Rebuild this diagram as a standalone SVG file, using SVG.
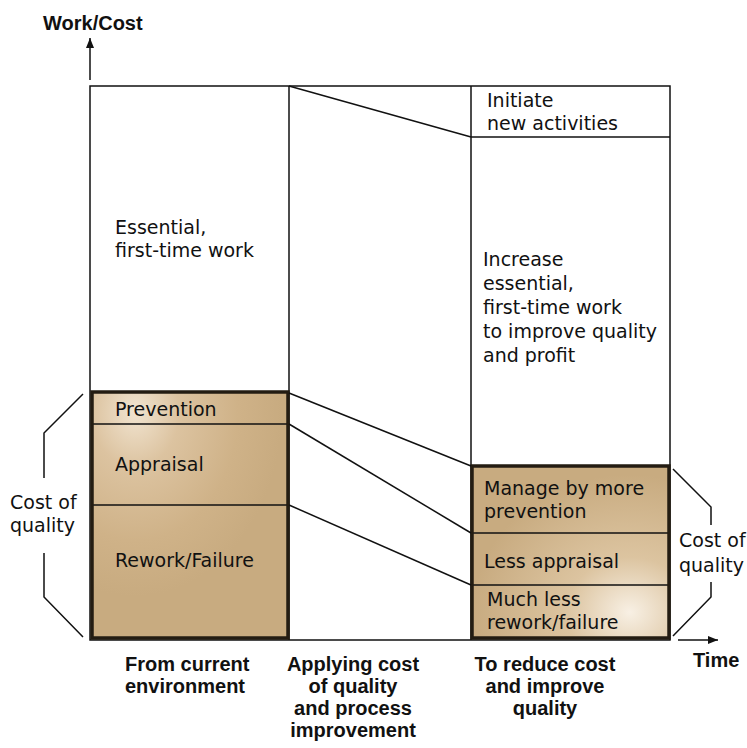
<svg xmlns="http://www.w3.org/2000/svg" width="747" height="748" viewBox="0 0 747 748">
<style>
.t{font-family:"DejaVu Sans",sans-serif;font-size:19px;fill:#111}
.b{font-family:"Liberation Sans",Arial,sans-serif;font-size:20px;font-weight:bold;fill:#111}
.ln{stroke:#111;stroke-width:1.5;fill:none}
.thk{stroke:#231c12;stroke-width:3.5;fill:none}
</style>
<defs>
<marker id="ah" viewBox="0 0 10 10" refX="10" refY="5" markerWidth="10" markerHeight="10" markerUnits="userSpaceOnUse" orient="auto">
<path d="M0,1 L10,5 L0,9 Z" fill="#111"/>
</marker>
<radialGradient id="gL" cx="0.22" cy="0.08" r="0.75">
<stop offset="0" stop-color="#f1e4d0"/>
<stop offset="0.3" stop-color="#dcc3a0"/>
<stop offset="0.7" stop-color="#cfb288"/>
<stop offset="1" stop-color="#c8ab80"/>
</radialGradient>
<radialGradient id="gR" cx="0.8" cy="0.85" r="0.8">
<stop offset="0" stop-color="#f8f0e4"/>
<stop offset="0.4" stop-color="#dcc4a0"/>
<stop offset="1" stop-color="#c8ab80"/>
</radialGradient>
</defs>
<g id="axes">
<text class="b" x="43" y="30">Work/Cost</text>
<line class="ln" x1="90" y1="80" x2="90" y2="38" marker-end="url(#ah)"/>
<line class="ln" x1="678" y1="640" x2="718" y2="640" marker-end="url(#ah)"/>
<text class="b" x="693" y="667">Time</text>
</g>
<g id="frame">
<rect class="ln" x="90" y="86" width="580" height="554"/>
<line class="ln" x1="289" y1="86" x2="289" y2="640"/>
<line class="ln" x1="471" y1="86" x2="471" y2="640"/>
<line class="ln" x1="471" y1="137" x2="670" y2="137"/>
</g>
<g id="current-work">
<text class="t" x="115" y="234">Essential,</text>
<text class="t" x="115" y="257">first-time work</text>
</g>
<g id="current-cost">
<rect x="92" y="392" width="196" height="246" fill="url(#gL)"/>
<line class="ln" x1="92" y1="424" x2="288" y2="424"/>
<line class="ln" x1="92" y1="505" x2="288" y2="505"/>
<rect class="thk" x="92" y="392" width="196" height="246"/>
<text class="t" x="115" y="416">Prevention</text>
<text class="t" x="115" y="471">Appraisal</text>
<text class="t" x="115" y="567">Rework/Failure</text>
</g>
<g id="new-activities">
<text class="t" x="487" y="107">Initiate</text>
<text class="t" x="487" y="130">new activities</text>
</g>
<g id="future-work">
<text class="t" x="483" y="266">Increase</text>
<text class="t" x="483" y="290">essential,</text>
<text class="t" x="483" y="314">first-time work</text>
<text class="t" x="483" y="338">to improve quality</text>
<text class="t" x="483" y="362">and profit</text>
</g>
<g id="future-cost">
<rect x="472" y="466" width="197" height="172" fill="url(#gR)"/>
<line class="ln" x1="472" y1="533" x2="669" y2="533"/>
<line class="ln" x1="472" y1="585" x2="669" y2="585"/>
<rect class="thk" x="472" y="466" width="197" height="172"/>
<text class="t" x="484" y="495">Manage by more</text>
<text class="t" x="484" y="518">prevention</text>
<text class="t" x="484" y="568">Less appraisal</text>
<text class="t" x="487" y="606">Much less</text>
<text class="t" x="487" y="629">rework/failure</text>
</g>
<g id="connectors">
<line class="ln" x1="289" y1="86" x2="471" y2="137"/>
<line class="ln" x1="289" y1="393" x2="471" y2="466"/>
<line class="ln" x1="289" y1="424" x2="471" y2="533"/>
<line class="ln" x1="289" y1="505" x2="471" y2="585"/>
</g>
<g id="bracket-left">
<polyline class="ln" points="83,394 44,433 44,478"/>
<polyline class="ln" points="44,553 44,597 83,637"/>
<text class="t" x="10" y="509">Cost of</text>
<text class="t" x="10" y="532">quality</text>
</g>
<g id="bracket-right">
<polyline class="ln" points="673,469 711,507 711,525"/>
<polyline class="ln" points="711,582 711,597 673,636"/>
<text class="t" x="679" y="547">Cost of</text>
<text class="t" x="679" y="572">quality</text>
</g>
<g id="column-labels">
<text class="b" x="125" y="671">From current</text>
<text class="b" x="125" y="693">environment</text>
<text class="b" text-anchor="middle" x="353" y="671">Applying cost</text>
<text class="b" text-anchor="middle" x="353" y="693">of quality</text>
<text class="b" text-anchor="middle" x="353" y="715">and process</text>
<text class="b" text-anchor="middle" x="353" y="737">improvement</text>
<text class="b" text-anchor="middle" x="545" y="671">To reduce cost</text>
<text class="b" text-anchor="middle" x="545" y="693">and improve</text>
<text class="b" text-anchor="middle" x="545" y="715">quality</text>
</g>
</svg>
